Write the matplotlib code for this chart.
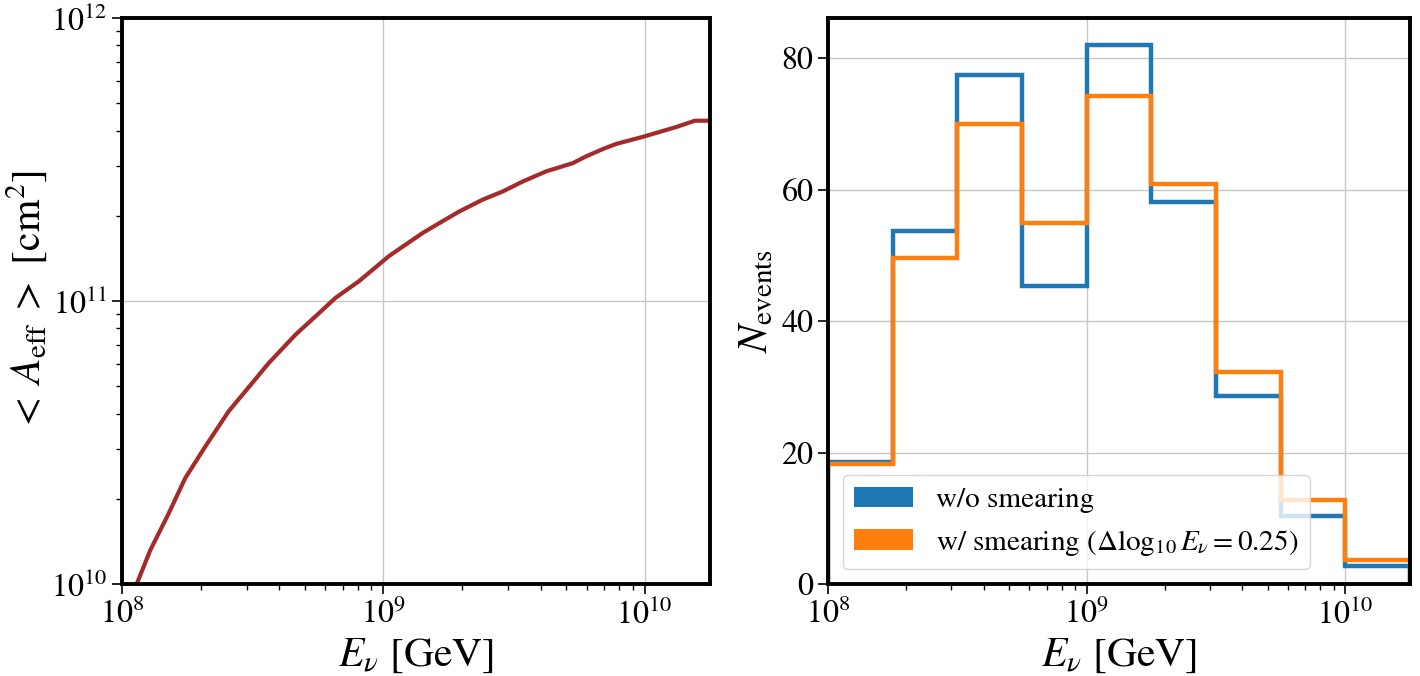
import numpy as np
import matplotlib
matplotlib.use("Agg")
import matplotlib.pyplot as plt
from matplotlib.patches import Patch

plt.rcParams['font.family'] = 'serif'
plt.rcParams['font.serif'] = ['STIXGeneral', 'Liberation Serif', 'DejaVu Serif']
plt.rcParams['mathtext.fontset'] = 'stix'

# ---- Left panel: effective area curve (log10 values) ----
log10_E_curve = [8.0, 8.059, 8.108, 8.178, 8.242, 8.319, 8.408, 8.472, 8.562, 8.664,
                 8.755, 8.817, 8.907, 9.022, 9.150, 9.214, 9.290, 9.380, 9.457,
                 9.533, 9.623, 9.725, 9.776, 9.840, 9.891, 9.993, 10.122, 10.192, 10.25]
log10_A_curve = [9.87, 10.006, 10.119, 10.248, 10.374, 10.486, 10.610, 10.681, 10.781, 10.881,
                 10.958, 11.011, 11.070, 11.159, 11.240, 11.275, 11.316, 11.358, 11.387,
                 11.422, 11.458, 11.487, 11.511, 11.537, 11.555, 11.580, 11.615, 11.637, 11.637]

# ---- Right panel: histogram ----
log10_bin_edges = [8.0, 8.25, 8.5, 8.75, 9.0, 9.25, 9.5, 9.75, 10.0, 10.25]
n_no_smear = [18.6, 53.7, 77.4, 45.3, 82.0, 58.1, 28.6, 10.4, 2.7]
n_smear = [18.3, 49.6, 70.0, 54.9, 74.3, 60.9, 32.3, 12.8, 3.6]

label_no = 'w/o smearing'
label_sm = r'w/ smearing ($\Delta\log_{10}E_\nu = 0.25$)'

E_curve = 10.0 ** np.array(log10_E_curve)
A_curve = 10.0 ** np.array(log10_A_curve)
edges = 10.0 ** np.array(log10_bin_edges)

fig = plt.figure(figsize=(14.2, 6.76), dpi=100)
ax1 = fig.add_axes([0.0859, 0.1361, 0.4141, 0.8373])
ax2 = fig.add_axes([0.5831, 0.1361, 0.4099, 0.8373])

blue = '#1f77b4'
orange = '#ff7f0e'

ax1.plot(E_curve, A_curve, color='#a52a2a', lw=3)
ax1.set_xscale('log')
ax1.set_yscale('log')
ax1.set_xlim(1e8, 10 ** 10.25)
ax1.set_ylim(1e10, 1e12)
ax1.set_xlabel(r'$E_\nu$ [GeV]', fontsize=30)
ax1.set_ylabel(r'$<\;A_{\rm eff}\;>$ [cm$^2$]', fontsize=30, labelpad=1)

ax2.stairs(n_no_smear, edges, color=blue, lw=3.2, baseline=0)
ax2.stairs(n_smear, edges, color=orange, lw=3.2, baseline=0)
ax2.set_xscale('log')
ax2.set_xlim(1e8, 10 ** 10.25)
ax2.set_ylim(0, max(n_no_smear) * 1.05)
ax2.set_yticks([0, 20, 40, 60, 80])
ax2.set_xlabel(r'$E_\nu$ [GeV]', fontsize=30)
ax2.set_ylabel(r'$N_{\rm events}$', fontsize=30)

handles = [Patch(facecolor=blue, edgecolor='none', label=label_no),
           Patch(facecolor=orange, edgecolor='none', label=label_sm)]
ax2.legend(handles=handles, loc='lower left', fontsize=21,
           handlelength=2.0, handleheight=0.72, handletextpad=0.8,
           framealpha=0.8, borderpad=0.4)

for ax in (ax1, ax2):
    ax.grid(True, which='major', color='#c8c8c8', lw=1.0)
    ax.set_axisbelow(True)
    for s in ax.spines.values():
        s.set_linewidth(2.8)
    ax.tick_params(which='major', direction='out', length=7, width=1.2, labelsize=23)
    ax.tick_params(which='minor', direction='out', length=4.5, width=1.0)

fig.savefig('out.png', dpi=100)
